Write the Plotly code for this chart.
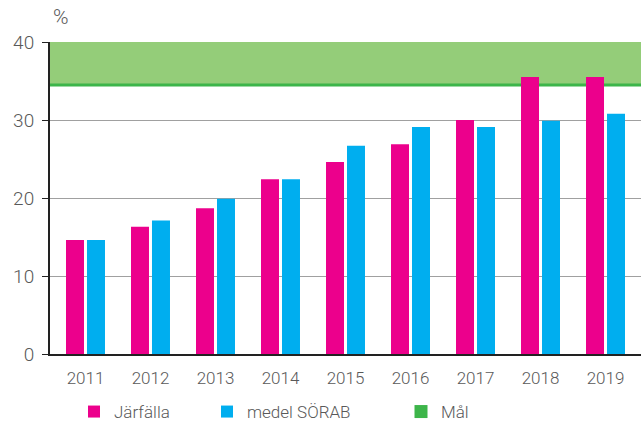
import plotly.graph_objects as go

years = ["2011", "2012", "2013", "2014", "2015", "2016", "2017", "2018", "2019"]
jarfalla = [14.6, 16.3, 18.7, 22.4, 24.6, 26.9, 30.0, 35.5, 35.5]
sorab = [14.6, 17.1, 19.9, 22.4, 26.7, 29.1, 29.1, 29.9, 30.8]
goal_low = 34.5
goal_high = 40
y_ticks = [0, 10, 20, 30, 40]

PINK = "#EC008C"
BLUE = "#00AEEF"
GREEN = "#3DB54A"
BAND = "#94CD79"
TXT = "#595959"
FONT = "Roboto"

fig = go.Figure()
fig.add_trace(go.Bar(x=years, y=jarfalla, name="Järfälla", marker_color=PINK,
                     marker_line_width=0, legend="legend"))
fig.add_trace(go.Bar(x=years, y=sorab, name="medel SÖRAB", marker_color=BLUE,
                     marker_line_width=0, legend="legend2"))
fig.add_trace(go.Scatter(x=[years[0]], y=[None], mode="markers", name="Mål",
                         marker=dict(symbol="square", size=13, color=GREEN, line_width=0),
                         legend="legend3"))

# target band with its lower boundary line
fig.add_shape(type="rect", xref="paper", x0=0, x1=1, yref="y", y0=goal_low, y1=goal_high,
              fillcolor=BAND, line_width=0, layer="below")
fig.add_shape(type="line", xref="paper", x0=0, x1=1, yref="y", y0=goal_low, y1=goal_low,
              line=dict(color=GREEN, width=3), layer="below")

fig.add_annotation(text="%", xref="paper", x=0, xanchor="left", xshift=1,
                   yref="paper", y=1, yanchor="bottom", yshift=11, showarrow=False,
                   font=dict(family=FONT, size=21, color=TXT, weight=300))

leg_common = dict(orientation="h", yanchor="middle", yref="paper", y=-58 / 312,
                  xref="container", xanchor="left", tracegroupgap=0,
                  bgcolor="rgba(0,0,0,0)", font=dict(family=FONT, size=17, color=TXT, weight=300),
                  itemclick=False)
fig.update_layout(
    width=641, height=421,
    margin=dict(l=50, r=0, t=42, b=67, autoexpand=False),
    paper_bgcolor="white", plot_bgcolor="white",
    barmode="group", bargap=0.354, bargroupgap=0.143,
    showlegend=True,
    legend=dict(**leg_common, x=74 / 641),
    legend2=dict(**leg_common, x=207 / 641),
    legend3=dict(**leg_common, x=401 / 641),
    font=dict(family=FONT, color=TXT),
    xaxis=dict(range=[-0.546, 8.546], showline=True, linecolor="#222", linewidth=2,
               ticks="", showgrid=False, zeroline=False, ticklabelstandoff=8,
               tickfont=dict(family=FONT, size=17, color=TXT, weight=300)),
    yaxis=dict(range=[0, 40], tickvals=y_ticks, showline=True, linecolor="#222", linewidth=2,
               ticks="outside", ticklen=6, tickcolor="#222", tickwidth=1,
               showgrid=True, gridcolor="#A0A0A0", gridwidth=1, zeroline=False,
               ticklabelstandoff=4,
               tickfont=dict(family=FONT, size=19, color=TXT, weight=300)),
)

fig.write_html("out.html")
